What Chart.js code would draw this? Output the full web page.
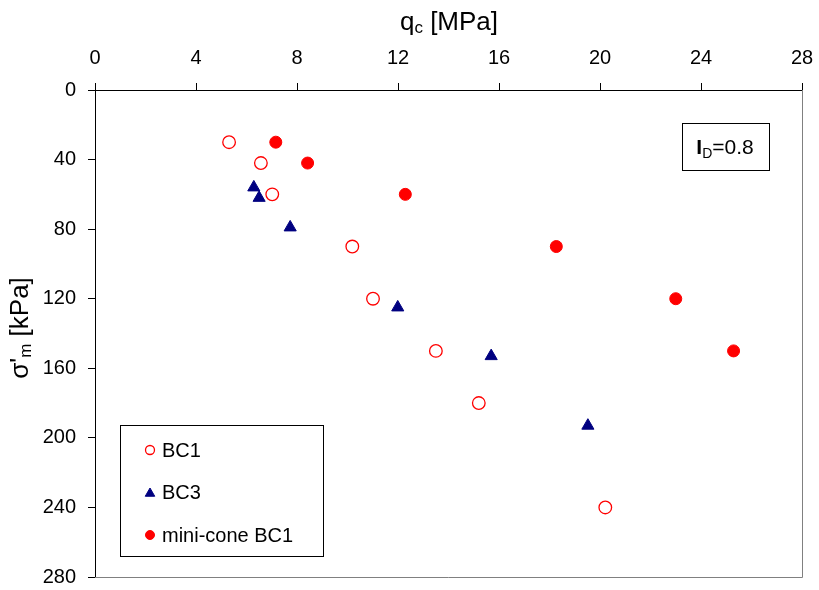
<!DOCTYPE html>
<html>
<head>
<meta charset="utf-8">
<script src="https://cdn.jsdelivr.net/npm/chart.js@4"></script>
<style>
  html, body { margin: 0; padding: 0; background: #fff; }
  #wrap { width: 819px; height: 590px; }
</style>
</head>
<body>
<div id="wrap"><canvas id="qcChart" width="819" height="590"></canvas></div>
<script>
// wartosci
const bc1Qc = [5.31, 6.57, 7.02, 10.19, 11.01, 13.5, 15.2, 20.21];
const bc1Sigma = [30, 42, 60, 90, 120, 150, 180, 240];
const bc3Qc = [6.29, 6.5, 7.73, 11.99, 15.69, 19.52];
const bc3Sigma = [56, 62, 79, 125, 153, 193];
const miniQc = [7.16, 8.42, 12.29, 18.27, 23.0, 25.29];
const miniSigma = [30, 42, 60, 90, 120, 150];
const seriesNames = ['BC1', 'BC3', 'mini-cone BC1'];
const xTicks = [0, 4, 8, 12, 16, 20, 24, 28];
const yTicks = [0, 40, 80, 120, 160, 200, 240, 280];

const FONT = "'Liberation Sans', Arial, sans-serif";

function toPoints(xs, ys) {
    return xs.map((x, i) => ({ x: x, y: ys[i] }));
}

// ramka, tytuly osi, legenda i opis I_D
const extrasPlugin = {
    id: 'extras',
    afterDraw(chart) {
        const ctx = chart.ctx;
        const a = chart.chartArea;
        ctx.save();

        // prawa i dolna krawedz
        ctx.strokeStyle = '#808080';
        ctx.lineWidth = 1;
        ctx.beginPath();
        ctx.moveTo(a.left, a.bottom + 0.5);
        ctx.lineTo(a.right + 0.5, a.bottom + 0.5);
        ctx.lineTo(a.right + 0.5, a.top);
        ctx.stroke();

        ctx.fillStyle = '#000';
        ctx.textBaseline = 'alphabetic';

        // tytul osi X: q_c [MPa]
        ctx.font = '26px ' + FONT;
        const qW = ctx.measureText('q').width;
        ctx.font = '17px ' + FONT;
        const cW = ctx.measureText('c').width;
        ctx.font = '26px ' + FONT;
        const restW = ctx.measureText(' [MPa]').width;
        let x0 = 449 - (qW + cW + restW) / 2;
        const yb = 30;
        ctx.fillText('q', x0, yb);
        ctx.font = '17px ' + FONT;
        ctx.fillText('c', x0 + qW, yb + 3);
        ctx.font = '26px ' + FONT;
        ctx.fillText(' [MPa]', x0 + qW + cW, yb);

        // tytul osi Y: σ'm [kPa]
        ctx.save();
        ctx.translate(28, 328);
        ctx.rotate(-Math.PI / 2);
        ctx.font = '26px ' + FONT;
        const sW = ctx.measureText("σ'").width;
        ctx.font = '17px ' + FONT;
        const mW = ctx.measureText('m').width;
        ctx.font = '26px ' + FONT;
        const kW = ctx.measureText(' [kPa]').width;
        let s0 = -(sW + mW + kW) / 2;
        ctx.fillText("σ'", s0, 0);
        ctx.font = '17px ' + FONT;
        ctx.fillText('m', s0 + sW, 3);
        ctx.font = '26px ' + FONT;
        ctx.fillText(' [kPa]', s0 + sW + mW, 0);
        ctx.restore();

        // ramka I_D=0.8
        ctx.strokeStyle = '#000';
        ctx.lineWidth = 1;
        ctx.strokeRect(682.5, 123.5, 87, 47);
        ctx.font = 'bold 21px ' + FONT;
        const iW = ctx.measureText('I').width;
        ctx.font = '14px ' + FONT;
        const dW = ctx.measureText('D').width;
        ctx.font = '21px ' + FONT;
        const vW = ctx.measureText('=0.8').width;
        let i0 = 725 - (iW + dW + vW) / 2;
        ctx.font = 'bold 21px ' + FONT;
        ctx.fillText('I', i0, 154);
        ctx.font = '14px ' + FONT;
        ctx.fillText('D', i0 + iW, 158);
        ctx.font = '21px ' + FONT;
        ctx.fillText('=0.8', i0 + iW + dW, 154);

        // legenda
        ctx.strokeStyle = '#000';
        ctx.strokeRect(120.5, 425.5, 203, 131);
        const rowsY = [450, 492, 535];
        chart.data.datasets.forEach((ds, i) => {
            ctx.save();
            ctx.strokeStyle = ds.borderColor;
            ctx.fillStyle = ds.backgroundColor;
            ctx.lineWidth = ds.borderWidth;
            Chart.helpers.drawPoint(ctx, {
                pointStyle: ds.pointStyle,
                radius: ds.pointStyle === 'triangle' ? 5.5 : 4.5,
                borderWidth: ds.borderWidth,
                rotation: 0
            }, 150, rowsY[i] + (ds.pointStyle === 'triangle' ? 1.5 : 0));
            ctx.restore();
            ctx.fillStyle = '#000';
            ctx.font = '20px ' + FONT;
            ctx.textBaseline = 'middle';
            ctx.fillText(ds.label, 162, rowsY[i] + 1);
        });

        ctx.restore();
    }
};

const ctx = document.getElementById('qcChart');
new Chart(ctx, {
    type: 'scatter',
    data: {
        datasets: [
            {
                label: seriesNames[0],
                data: toPoints(bc1Qc, bc1Sigma),
                pointStyle: 'circle',
                pointRadius: 6.3,
                borderColor: '#FF0000',
                backgroundColor: '#FFFFFF',
                borderWidth: 1.3
            },
            {
                label: seriesNames[1],
                data: toPoints(bc3Qc, bc3Sigma),
                pointStyle: 'triangle',
                pointRadius: 7,
                borderColor: '#000080',
                backgroundColor: '#000080',
                borderWidth: 1
            },
            {
                label: seriesNames[2],
                data: toPoints(miniQc, miniSigma),
                pointStyle: 'circle',
                pointRadius: 6,
                borderColor: '#FF0000',
                backgroundColor: '#FF0000',
                borderWidth: 1
            }
        ]
    },
    options: {
        responsive: false,
        animation: false,
        layout: { padding: { left: 0, top: 0, right: 17, bottom: 13 } },
        plugins: {
            legend: { display: false },
            tooltip: { enabled: false }
        },
        scales: {
            x: {
                type: 'linear',
                position: 'top',
                min: 0,
                max: 28,
                afterBuildTicks: (s) => { s.ticks = xTicks.map(v => ({ value: v })); },
                afterFit: (s) => { s.height = 90; s.paddingLeft = 0; s.paddingRight = 0; },
                border: { color: '#000', width: 1 },
                grid: { drawOnChartArea: false, drawTicks: true, tickLength: 7, color: '#000' },
                ticks: { padding: 13, color: '#000', font: { family: FONT, size: 20 } }
            },
            y: {
                type: 'linear',
                reverse: true,
                min: 0,
                max: 280,
                afterBuildTicks: (s) => { s.ticks = yTicks.map(v => ({ value: v })); },
                afterFit: (s) => { s.width = 95; s.paddingTop = 0; s.paddingBottom = 0; },
                border: { color: '#000', width: 1 },
                grid: { drawOnChartArea: false, drawTicks: true, tickLength: 7, color: '#000' },
                ticks: { padding: 12, color: '#000', font: { family: FONT, size: 20 } }
            }
        }
    },
    plugins: [extrasPlugin]
});
</script>
</body>
</html>
